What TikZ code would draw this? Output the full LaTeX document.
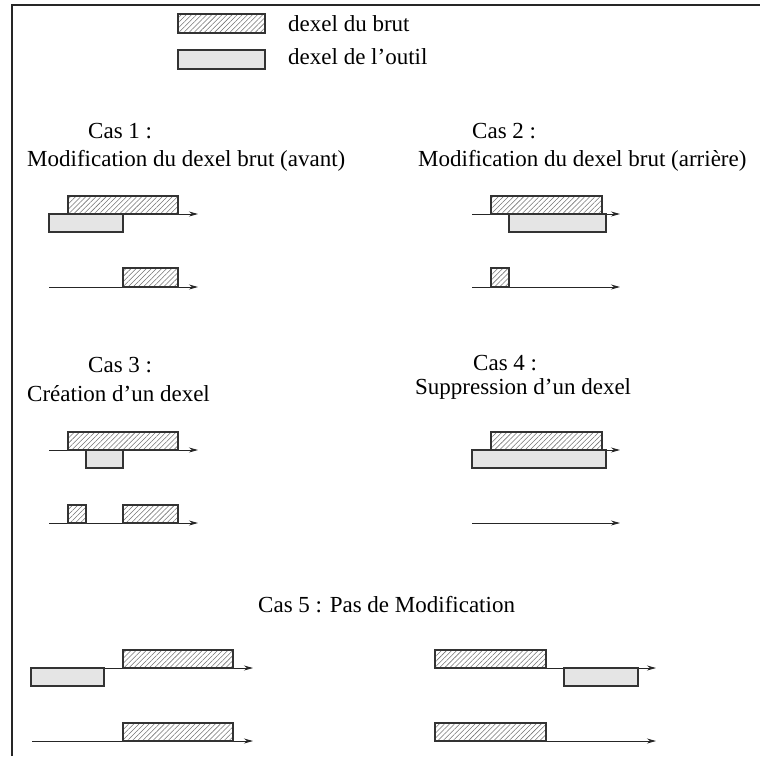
\documentclass[tikz,border=0pt]{standalone}
\usepackage{fontspec}
\setmainfont{Liberation Serif}
\usetikzlibrary{arrows.meta,patterns.meta}
\begin{document}
\begin{tikzpicture}[x=1pt,y=-1pt,
  brut/.style={draw=black!80,line width=1.1pt,
    pattern={Lines[angle=45,distance=3.6pt,line width=0.55pt]},pattern color=black!55},
  outil/.style={draw=black!80,line width=1.1pt,fill=black!10},
  axe/.style={draw=black!85,line width=0.9pt,-{Stealth[length=9pt,width=5pt]}},
  cadre/.style={draw=black!85,line width=1.4pt},
  lbl/.style={anchor=base west,inner sep=0pt,font=\fontsize{23}{27}\selectfont}]
\useasboundingbox (0,0) rectangle (760,756);

% frame (top and left edges)
\coordinate (fA) at (12,756);
\coordinate (fB) at (12,5);
\coordinate (fC) at (760,5);
\draw[cadre] (fA) -- (fB) -- (fC);

% legend
\draw[brut] (178,14) rectangle (265,33);
\draw[outil] (178,50) rectangle (265,69);
\node[lbl] (leg1) at (288,31) {dexel du brut};
\node[lbl] (leg2) at (288,64) {dexel de l’outil};

% titles
\node[lbl] (t1a) at (88,138) {Cas 1 :};
\node[lbl] (t1b) at (27,166) {Modification du dexel brut (avant)};
\node[lbl] (t2a) at (472,138) {Cas 2 :};
\node[lbl] (t2b) at (418,166) {Modification du dexel brut (arrière)};
\node[lbl] (t3a) at (88,372) {Cas 3 :};
\node[lbl] (t3b) at (27,401) {Création d’un dexel};
\node[lbl] (t4a) at (473,370) {Cas 4 :};
\node[lbl] (t4b) at (415,394) {Suppression d’un dexel};
\node[lbl] (t5) at (258,612) {Cas 5 : Pas de Modification};

% axis ends
\coordinate (a1s) at (49,214);  \coordinate (a1e) at (198,214);
\coordinate (b1s) at (49,287);  \coordinate (b1e) at (198,287);
\coordinate (a2s) at (472,214); \coordinate (a2e) at (620,214);
\coordinate (b2s) at (472,287); \coordinate (b2e) at (620,287);
\coordinate (a3s) at (49,450);  \coordinate (a3e) at (198,450);
\coordinate (b3s) at (49,523);  \coordinate (b3e) at (198,523);
\coordinate (a4s) at (472,450); \coordinate (a4e) at (620,450);
\coordinate (b4s) at (472,523); \coordinate (b4e) at (620,523);
\coordinate (a5s) at (31,668);  \coordinate (a5e) at (253,668);
\coordinate (b5s) at (32,741);  \coordinate (b5e) at (253,741);
\coordinate (a6s) at (435,668); \coordinate (a6e) at (656,668);
\coordinate (b6s) at (435,741); \coordinate (b6e) at (656,741);

\foreach \p in {1,...,6} {
  \draw[axe] (a\p s) -- (a\p e);
  \draw[axe] (b\p s) -- (b\p e);
}

% case 1
\draw[brut] (68,196) rectangle (178,214);
\draw[outil] (49,214) rectangle (123,232);
\draw[brut] (123,268) rectangle (178,287);

% case 2
\draw[brut] (491,196) rectangle (602,214);
\draw[outil] (509,214) rectangle (606,232);
\draw[brut] (491,268) rectangle (509,287);

% case 3
\draw[brut] (68,432) rectangle (178,450);
\draw[outil] (86,450) rectangle (123,468);
\draw[brut] (68,505) rectangle (86,523);
\draw[brut] (123,505) rectangle (178,523);

% case 4
\draw[brut] (491,432) rectangle (602,450);
\draw[outil] (472,450) rectangle (606,468);

% case 5, left
\draw[brut] (123,650) rectangle (233,668);
\draw[outil] (31,668) rectangle (104,686);
\draw[brut] (123,723) rectangle (233,741);

% case 5, right
\draw[brut] (435,650) rectangle (546,668);
\draw[outil] (564,668) rectangle (638,686);
\draw[brut] (435,723) rectangle (546,741);
\end{tikzpicture}
\end{document}
